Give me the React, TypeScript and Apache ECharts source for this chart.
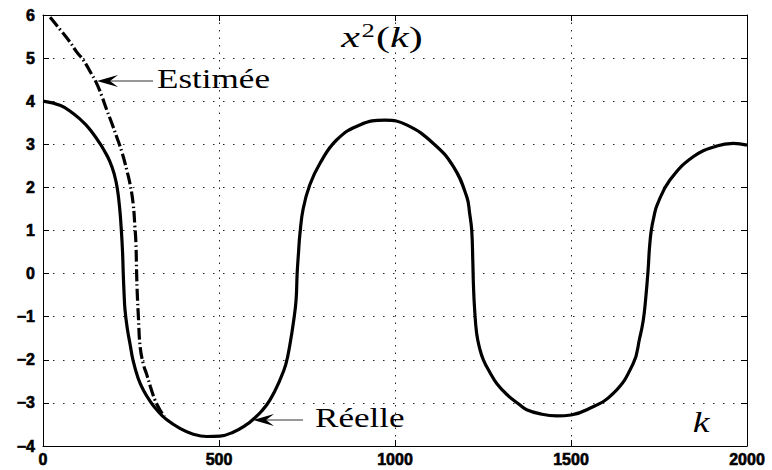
import React, { useEffect, useRef } from "react";
import * as echarts from "echarts";

// Real trajectory x2(k)
const kReal = [0, 50, 85, 120, 142, 160, 175, 190, 202, 211, 218, 223, 226, 228, 230, 233, 240, 247, 256, 270, 285, 305, 323, 350, 389, 425, 465, 503, 540, 579, 597, 620, 645, 673, 690, 702, 712, 719, 722, 726, 730, 739, 758, 787, 834, 900, 972, 1033, 1109, 1166, 1204, 1212, 1218, 1221, 1223, 1226, 1232, 1241, 1251, 1270, 1289, 1317, 1355, 1374, 1410, 1460, 1500, 1545, 1620, 1677, 1695, 1705, 1712, 1719, 1723, 1728, 1735, 1745, 1781, 1847, 1914, 1961, 2000];
const vReal = [4.0, 3.9, 3.72, 3.47, 3.25, 3.04, 2.84, 2.6, 2.32, 1.98, 1.5, 0.95, 0.5, 0.0, -0.4, -0.84, -1.3, -1.62, -2.02, -2.42, -2.7, -2.97, -3.16, -3.38, -3.59, -3.72, -3.78, -3.77, -3.68, -3.5, -3.38, -3.2, -2.93, -2.47, -2.1, -1.62, -1.1, -0.61, 0.0, 0.5, 0.93, 1.5, 2.06, 2.56, 3.1, 3.45, 3.56, 3.45, 3.02, 2.48, 1.78, 1.4, 1.0, 0.3, -0.3, -0.8, -1.39, -1.75, -2.0, -2.3, -2.55, -2.8, -3.05, -3.16, -3.25, -3.3, -3.28, -3.16, -2.78, -2.08, -1.5, -1.1, -0.6, 0.08, 0.6, 1.0, 1.3, 1.6, 2.17, 2.71, 2.96, 3.02, 2.98];

// Estimated trajectory
const kEst = [20, 25, 50, 76, 95, 114, 133, 152, 167, 181, 195, 209, 225, 238, 247, 256, 261, 264, 266, 268, 271, 276, 285, 295, 305, 318, 332, 345];
const vEst = [5.95, 5.9, 5.65, 5.38, 5.15, 4.96, 4.7, 4.42, 4.12, 3.8, 3.5, 3.18, 2.8, 2.4, 2.09, 1.63, 1.1, 0.7, 0.01, -0.5, -1.0, -1.7, -2.1, -2.35, -2.62, -2.93, -3.16, -3.32];

const xTicks = { min: 0, max: 2000, interval: 500 };
const yTicks = { min: -4, max: 6, interval: 1 };

const SERIF = "'Liberation Serif', 'Times New Roman', serif";
const SANS = "'Liberation Sans', Arial, sans-serif";

function arrow(tipX: number, y: number, tailX: number) {
  return [
    {
      type: "line",
      shape: { x1: tipX + 12, y1: y, x2: tailX, y2: y },
      style: { stroke: "#333", lineWidth: 1 },
    },
    {
      type: "polygon",
      shape: {
        points: [
          [tipX, y],
          [tipX + 21, y - 6],
          [tipX + 13, y],
          [tipX + 21, y + 6],
        ],
      },
      style: { fill: "#000" },
    },
  ];
}

export default function App() {
  const ref = useRef<HTMLDivElement>(null);
  useEffect(() => {
    if (!ref.current) return;
    const chart = echarts.init(ref.current, undefined, { renderer: "svg" });
    const real = kReal.map((k, i) => [k, vReal[i]]);
    const est = kEst.map((k, i) => [k, vEst[i]]);
    const labelFmt = (v: number) => "{b|" + (v < 0 ? "\u2212" + Math.abs(v) : String(v)) + "}";
    const labelStyle = {
      show: true,
      color: "#000",
      fontFamily: SANS,
      fontWeight: "bold",
      fontSize: 16,
      formatter: labelFmt,
      showMinLabel: true,
      showMaxLabel: true,
      rich: {
        b: { fontFamily: SANS, fontWeight: "bold", fontSize: 16, color: "#000", textBorderColor: "#000", textBorderWidth: 0.6 },
      },
    };
    chart.setOption({
      animation: false,
      backgroundColor: "#fff",
      grid: { left: 43, right: 25, top: 15, bottom: 24, show: false },
      xAxis: [
        {
          type: "value",
          ...xTicks,
          position: "bottom",
          axisLine: { show: true, onZero: false, lineStyle: { color: "#000", width: 1 } },
          axisTick: { show: true, inside: true, length: 6, lineStyle: { color: "#000" } },
          axisLabel: { ...labelStyle, margin: 5 },
          splitLine: { show: true, lineStyle: { color: "#222", width: 1, type: [1.5, 6] } },
        },
        {
          type: "value",
          ...xTicks,
          position: "top",
          axisLine: { show: true, onZero: false, lineStyle: { color: "#000", width: 1 } },
          axisTick: { show: true, inside: true, length: 6, lineStyle: { color: "#000" } },
          axisLabel: { show: false },
          splitLine: { show: false },
        },
      ],
      yAxis: [
        {
          type: "value",
          ...yTicks,
          position: "left",
          axisLine: { show: true, onZero: false, lineStyle: { color: "#000", width: 1 } },
          axisTick: { show: true, inside: true, length: 6, lineStyle: { color: "#000" } },
          axisLabel: { ...labelStyle, margin: 8 },
          splitLine: { show: true, lineStyle: { color: "#222", width: 1, type: [1.5, 8.5] } },
        },
        {
          type: "value",
          ...yTicks,
          position: "right",
          axisLine: { show: true, onZero: false, lineStyle: { color: "#000", width: 1 } },
          axisTick: { show: true, inside: true, length: 6, lineStyle: { color: "#000" } },
          axisLabel: { show: false },
          splitLine: { show: false },
        },
      ],
      series: [
        {
          name: "Réelle",
          type: "line",
          data: real,
          showSymbol: false,
          smooth: 0.45,
          lineStyle: { color: "#000", width: 3.2 },
          z: 3,
        },
        {
          name: "Estimée",
          type: "line",
          data: est,
          showSymbol: false,
          smooth: 0.45,
          lineStyle: { color: "#000", width: 3.2, type: [12, 3, 1.5, 3] },
          z: 4,
        },
      ],
      graphic: [
        ...arrow(97, 81, 153),
        ...arrow(253, 420, 303),
        {
          type: "text",
          x: 157,
          y: 79,
          scaleX: 1.3,
          style: { text: "Estimée", fontFamily: SERIF, fontSize: 27, fill: "#000", align: "left", verticalAlign: "middle" },
        },
        {
          type: "text",
          x: 315,
          y: 418,
          scaleX: 1.3,
          style: { text: "Réelle", fontFamily: SERIF, fontSize: 27, fill: "#000", align: "left", verticalAlign: "middle" },
        },
        {
          type: "text",
          x: 701,
          y: 422,
          scaleX: 1.3,
          style: { text: "k", fontFamily: SERIF, fontStyle: "italic", fontSize: 29, fill: "#000", align: "center", verticalAlign: "middle" },
        },
        {
          type: "text",
          x: 382,
          y: 37,
          scaleX: 1.4,
          style: {
            text: "{i|x}{s|2}{n|(}{i|k}{n|)}",
            align: "center",
            verticalAlign: "middle",
            fill: "#000",
            rich: {
              i: { fontFamily: SERIF, fontStyle: "italic", fontSize: 30, fill: "#000", lineHeight: 32 },
              n: { fontFamily: SERIF, fontSize: 30, fill: "#000", lineHeight: 32 },
              s: { fontFamily: SERIF, fontSize: 19, fill: "#000", verticalAlign: "top", lineHeight: 32, padding: [0, 1, 10, 1] },
            },
          },
        },
      ],
    });
    return () => chart.dispose();
  }, []);
  return <div ref={ref} style={{ position: "absolute", left: 0, top: 0, width: 772, height: 470 }} />;
}
